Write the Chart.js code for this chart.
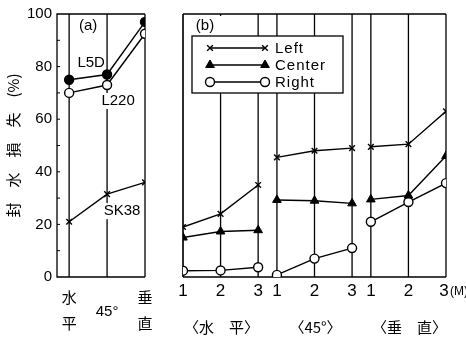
<!DOCTYPE html>
<html>
<head>
<meta charset="utf-8">
<script src="https://cdn.jsdelivr.net/npm/chart.js@4/dist/chart.umd.min.js"></script>
<style>
  html, body { margin: 0; padding: 0; background: #fff; }
  #wrap { position: relative; width: 466px; height: 341px; overflow: hidden; background: #fff; }
  #ca { position: absolute; left: 0; top: 0; }
  #cb { position: absolute; left: 160px; top: 0; }
</style>
</head>
<body>
<div id="wrap">
  <canvas id="ca" width="160" height="341"></canvas>
  <canvas id="cb" width="306" height="341"></canvas>
</div>
<script>
// ---- data: (a) seal-water loss by installation attitude ----
const orientLabels = [['水', '平'], ['45°'], ['垂', '直']];
const seriesNamesA = ['L5D', 'L220', 'SK38'];
const l5d  = [75, 77, 97];
const l220 = [70, 73, 92.5];
const sk38 = [21, 31.5, 36];
const yTicks = [0, 20, 40, 60, 80, 100];

// ---- data: (b) seal-water loss by measuring point and attitude ----
const groupLabels = ['〈水　平〉', '〈45°〉', '〈垂　直〉'];
const pointLabels = ['1', '2', '3'];
const unitLabel = '(M)';
const seriesNamesB = ['Left', 'Center', 'Right'];
const leftVals   = [19, 24, 35, 45.5, 48, 49, 49.5, 50.5, 63];
const centerVals = [15, 17.3, 17.8, 29.3, 29, 28, 29.5, 31, 46];
const rightVals  = [2.4, 2.5, 3.7, 0.8, 7, 11, 21, 28.5, 35.7];

const LATIN = "'Liberation Sans', Arial, sans-serif";
const NARROW = "'Liberation Sans Narrow', 'Liberation Sans', sans-serif";
const CJK = "'Noto Sans CJK JP', 'Noto Sans CJK SC', sans-serif";
const INK = '#000';

function labelWithBacking(ctx, text, x, y, font) {
  ctx.font = font;
  const w = ctx.measureText(text).width;
  ctx.fillStyle = '#fff';
  ctx.fillRect(x - w / 2 - 1, y - 8, w + 2, 16);
  ctx.fillStyle = INK;
  ctx.textAlign = 'center';
  ctx.textBaseline = 'middle';
  ctx.fillText(text, x, y);
}

// ---------------- panel (a) ----------------
const panelA = {
  id: 'panelA',
  beforeDatasetsDraw(chart) {
    const { ctx, chartArea: a, scales: { x, y } } = chart;
    ctx.save();
    ctx.strokeStyle = INK;
    ctx.lineWidth = 1.3;
    ctx.beginPath();
    ctx.moveTo(a.right, a.top); ctx.lineTo(a.left, a.top);
    ctx.lineTo(a.left, a.bottom); ctx.lineTo(a.right, a.bottom);
    orientLabels.forEach((_, i) => {
      const px = x.getPixelForValue(i);
      ctx.moveTo(px, a.top); ctx.lineTo(px, a.bottom);
    });
    ctx.stroke();
    // inward minor ticks every 10 %
    ctx.lineWidth = 1;
    ctx.beginPath();
    for (let v = 10; v < 100; v += 10) {
      const py = y.getPixelForValue(v);
      ctx.moveTo(a.left, py); ctx.lineTo(a.left + 3, py);
    }
    ctx.stroke();

    // panel tag and series names
    const f = '15px ' + LATIN;
    labelWithBacking(ctx, '(a)', (x.getPixelForValue(0) + x.getPixelForValue(1)) / 2, a.top + 12, f);
    const p = (arr, i) => ({ px: x.getPixelForValue(i), py: y.getPixelForValue(arr[i]) });
    let q = p(l5d, 0);
    labelWithBacking(ctx, seriesNamesA[0], q.px + 22, q.py - 17, f);
    q = p(l220, 1);
    labelWithBacking(ctx, seriesNamesA[1], q.px + 11, q.py + 16, f);
    q = p(sk38, 1);
    labelWithBacking(ctx, seriesNamesA[2], q.px + 15, q.py + 17, f);
    ctx.restore();
  },
  afterDraw(chart) {
    const { ctx, chartArea: a, scales: { x } } = chart;
    ctx.save();
    ctx.fillStyle = INK;
    ctx.textAlign = 'center';
    ctx.textBaseline = 'middle';
    orientLabels.forEach((lines, i) => {
      const px = x.getPixelForValue(i);
      if (lines.length === 2) {
        ctx.font = '15px ' + CJK;
        ctx.fillText(lines[0], px, a.bottom + 20);
        ctx.fillText(lines[1], px, a.bottom + 46);
      } else {
        ctx.font = '15px ' + LATIN;
        ctx.fillText(lines[0], px, a.bottom + 35);
      }
    });
    ctx.restore();
  }
};

new Chart(document.getElementById('ca'), {
  type: 'line',
  data: {
    datasets: [
      { label: seriesNamesA[0], data: l5d.map((v, i) => ({ x: i, y: v })),
        borderColor: INK, borderWidth: 1.4, pointStyle: 'circle', pointRadius: 4.5,
        pointBackgroundColor: INK, pointBorderColor: INK },
      { label: seriesNamesA[1], data: l220.map((v, i) => ({ x: i, y: v })),
        borderColor: INK, borderWidth: 1.4, pointStyle: 'circle', pointRadius: 4.5,
        pointBackgroundColor: '#fff', pointBorderColor: INK, pointBorderWidth: 1.4 },
      { label: seriesNamesA[2], data: sk38.map((v, i) => ({ x: i, y: v })),
        borderColor: INK, borderWidth: 1.4, pointStyle: 'crossRot', pointRadius: 4,
        pointBorderColor: INK, pointBorderWidth: 1.4 }
    ]
  },
  options: {
    responsive: false,
    animation: false,
    layout: { padding: { left: 0, right: 15, top: 13, bottom: 64 } },
    plugins: { legend: { display: false }, tooltip: { enabled: false } },
    scales: {
      x: { type: 'linear', min: -0.32, max: 2, display: false },
      y: {
        min: 0, max: 100,
        afterFit: s => { s.width = 57; },
        afterBuildTicks: s => { s.ticks = yTicks.map(v => ({ value: v })); },
        grid: { display: false, drawTicks: false },
        border: { display: false },
        ticks: { color: INK, padding: 5, font: { family: LATIN, size: 15 } },
        title: { display: true, text: '封　水　損　失　(%)', color: INK,
                 font: { family: CJK, size: 15 } }
      }
    }
  },
  plugins: [panelA]
});

// ---------------- panel (b) ----------------
const xOf = i => Math.floor(i / 3) * 2.5 + (i % 3);
const sameGroup = c => Math.floor(c.p0DataIndex / 3) === Math.floor(c.p1DataIndex / 3);
const segStyle = { borderColor: c => (sameGroup(c) ? INK : 'rgba(0,0,0,0)') };

const panelB = {
  id: 'panelB',
  beforeDatasetsDraw(chart) {
    const { ctx, chartArea: a, scales: { x } } = chart;
    ctx.save();
    ctx.strokeStyle = INK;
    ctx.lineWidth = 1.3;
    ctx.beginPath();
    ctx.moveTo(a.left, a.top); ctx.lineTo(a.right, a.top);
    ctx.moveTo(a.left, a.bottom); ctx.lineTo(a.right, a.bottom);
    for (let i = 0; i < leftVals.length; i++) {
      const px = x.getPixelForValue(xOf(i));
      ctx.moveTo(px, a.top); ctx.lineTo(px, a.bottom);
    }
    ctx.stroke();
    ctx.lineWidth = 1;
    ctx.beginPath();
    ctx.moveTo(a.left, a.top); ctx.lineTo(a.left, a.bottom);
    ctx.stroke();
    // panel tag
    ctx.font = '15px ' + LATIN;
    ctx.fillStyle = '#fff';
    ctx.fillRect(a.left + 4, a.top + 2, 36, 20);
    ctx.fillStyle = INK;
    ctx.textAlign = 'center';
    ctx.textBaseline = 'middle';
    ctx.fillText('(b)', a.left + 22, a.top + 12);
    ctx.restore();
  },
  afterDraw(chart) {
    const { ctx, chartArea: a, scales: { x } } = chart;
    const ds = chart.data.datasets;
    ctx.save();
    // legend box
    const bx = a.left + 9, by = a.top + 22, bw = 151, bh = 57;
    ctx.fillStyle = '#fff';
    ctx.fillRect(bx, by, bw, bh);
    ctx.strokeStyle = INK;
    ctx.lineWidth = 1.3;
    ctx.strokeRect(bx, by, bw, bh);
    ds.forEach((d, k) => {
      const ly = by + 12 + k * 17;
      const x0 = bx + 18, x1 = bx + 73;
      ctx.strokeStyle = INK;
      ctx.lineWidth = 1.3;
      ctx.beginPath(); ctx.moveTo(x0, ly); ctx.lineTo(x1, ly); ctx.stroke();
      const opt = { pointStyle: d.pointStyle, radius: d.pointRadius, borderWidth: d.pointBorderWidth || 1.3, rotation: 0 };
      ctx.fillStyle = d.pointBackgroundColor || INK;
      ctx.strokeStyle = INK;
      ctx.lineWidth = opt.borderWidth;
      Chart.helpers.drawPoint(ctx, opt, x0, ly);
      ctx.fillStyle = d.pointBackgroundColor || INK;
      ctx.strokeStyle = INK;
      Chart.helpers.drawPoint(ctx, opt, x1, ly);
      ctx.fillStyle = INK;
      ctx.font = '15px ' + LATIN;
      ctx.letterSpacing = '1px';
      ctx.textAlign = 'left';
      ctx.textBaseline = 'middle';
      ctx.fillText(d.label, x1 + 10, ly + 1);
      ctx.letterSpacing = '0px';
    });
    // axis labels
    ctx.fillStyle = INK;
    ctx.textAlign = 'center';
    ctx.textBaseline = 'middle';
    ctx.font = '17px ' + NARROW;
    const n = leftVals.length;
    for (let i = 0; i < n; i++) {
      let px = x.getPixelForValue(xOf(i));
      if (i === n - 1) px -= 2;
      ctx.fillText(pointLabels[i % 3], px, a.bottom + 14);
    }
    const last = x.getPixelForValue(xOf(n - 1));
    ctx.font = '12px ' + NARROW;
    ctx.textAlign = 'left';
    ctx.fillText(unitLabel, last + 4, a.bottom + 15);
    ctx.textAlign = 'center';
    ctx.font = '15px ' + CJK;
    groupLabels.forEach((g, j) => {
      ctx.fillText(g, x.getPixelForValue(xOf(j * 3 + 1)) + 1, a.bottom + 50);
    });
    ctx.restore();
  }
};

new Chart(document.getElementById('cb'), {
  type: 'line',
  data: {
    datasets: [
      { label: seriesNamesB[0], data: leftVals.map((v, i) => ({ x: xOf(i), y: v })),
        borderColor: INK, borderWidth: 1.4, segment: segStyle,
        pointStyle: 'crossRot', pointRadius: 4, pointBorderColor: INK, pointBorderWidth: 1.4 },
      { label: seriesNamesB[1], data: centerVals.map((v, i) => ({ x: xOf(i), y: v })),
        borderColor: INK, borderWidth: 1.4, segment: segStyle,
        pointStyle: 'triangle', pointRadius: 5, pointBackgroundColor: INK, pointBorderColor: INK, pointBorderWidth: 1 },
      { label: seriesNamesB[2], data: rightVals.map((v, i) => ({ x: xOf(i), y: v })),
        borderColor: INK, borderWidth: 1.4, segment: segStyle,
        pointStyle: 'circle', pointRadius: 4.5, pointBackgroundColor: '#fff', pointBorderColor: INK, pointBorderWidth: 1.4 }
    ]
  },
  options: {
    responsive: false,
    animation: false,
    layout: { padding: { left: 23, right: 20, top: 14, bottom: 64 } },
    plugins: { legend: { display: false }, tooltip: { enabled: false } },
    scales: {
      x: { type: 'linear', min: 0, max: 7, display: false },
      y: { min: 0, max: 100, display: false }
    }
  },
  plugins: [panelB]
});
</script>
</body>
</html>
